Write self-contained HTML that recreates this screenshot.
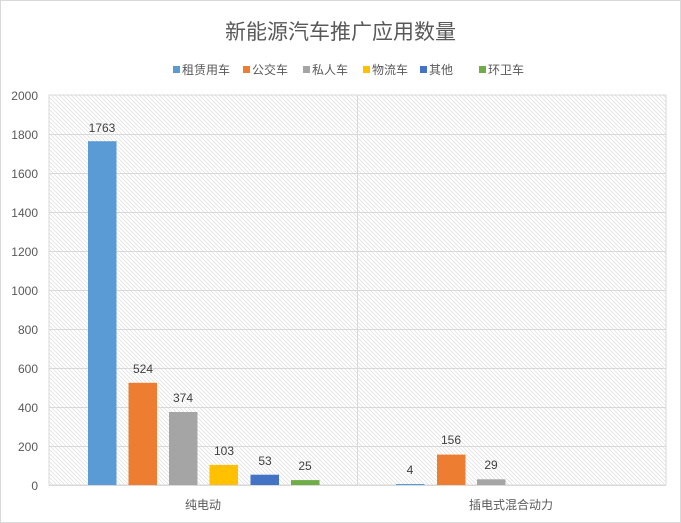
<!DOCTYPE html>
<html><head><meta charset="utf-8"><style>
html,body{margin:0;padding:0;background:#fff;}
svg{display:block;font-family:"Liberation Sans","Noto Sans CJK SC",sans-serif;}
</style></head><body>
<svg width="681" height="523" viewBox="0 0 681 523" xmlns="http://www.w3.org/2000/svg">
<defs>
<pattern id="h" width="4" height="4" patternUnits="userSpaceOnUse">
<path d="M-1,-1 L5,5 M-1,3 L1,5 M3,-1 L5,1" stroke="#dedede" stroke-width="0.7"/>
</pattern>
</defs>
<rect x="0.5" y="0.5" width="680" height="522" fill="#fff" stroke="#d9d9d9"/>
<text x="340.5" y="39" text-anchor="middle" font-size="21" fill="#595959">新能源汽车推广应用数量</text>
<g font-size="12" fill="#595959">
<rect x="173" y="66" width="7" height="7" fill="#5b9bd5"/><text x="182" y="74">租赁用车</text>
<rect x="243" y="66" width="7" height="7" fill="#ed7d31"/><text x="252" y="74">公交车</text>
<rect x="303" y="66" width="7" height="7" fill="#a5a5a5"/><text x="312" y="74">私人车</text>
<rect x="363" y="66" width="7" height="7" fill="#ffc000"/><text x="372" y="74">物流车</text>
<rect x="420" y="66" width="7" height="7" fill="#4472c4"/><text x="429" y="74">其他</text>
<rect x="479" y="66" width="7" height="7" fill="#70ad47"/><text x="488" y="74">环卫车</text>
</g>
<rect x="49" y="95" width="617" height="390" fill="url(#h)" stroke="#d9d9d9"/>
<g stroke="#d9d9d9" stroke-width="1">
<line x1="49" y1="134.5" x2="666" y2="134.5"/><line x1="49" y1="173.5" x2="666" y2="173.5"/>
<line x1="49" y1="212.5" x2="666" y2="212.5"/><line x1="49" y1="251.5" x2="666" y2="251.5"/>
<line x1="49" y1="290.5" x2="666" y2="290.5"/><line x1="49" y1="329.5" x2="666" y2="329.5"/>
<line x1="49" y1="368.5" x2="666" y2="368.5"/><line x1="49" y1="407.5" x2="666" y2="407.5"/>
<line x1="49" y1="446.5" x2="666" y2="446.5"/><line x1="49" y1="485.5" x2="666" y2="485.5"/>
<line x1="357.5" y1="95" x2="357.5" y2="485"/>
</g>
<g font-size="12" fill="#595959" text-anchor="end">
<text x="38" y="100">2000</text><text x="38" y="139">1800</text><text x="38" y="178">1600</text>
<text x="38" y="217">1400</text><text x="38" y="256">1200</text><text x="38" y="295">1000</text>
<text x="38" y="334">800</text><text x="38" y="373">600</text><text x="38" y="412">400</text>
<text x="38" y="451">200</text><text x="38" y="490">0</text>
</g>
<rect x="88" y="141.2" width="28.5" height="343.8" fill="#5b9bd5"/>
<rect x="128.5" y="382.8" width="28.5" height="102.2" fill="#ed7d31"/>
<rect x="169" y="412" width="28.5" height="73" fill="#a5a5a5"/>
<rect x="209.5" y="464.9" width="28.5" height="20.1" fill="#ffc000"/>
<rect x="250.5" y="474.7" width="28.5" height="10.3" fill="#4472c4"/>
<rect x="291" y="480.1" width="28.5" height="4.9" fill="#70ad47"/>
<rect x="396" y="484" width="28.5" height="1" fill="#5b9bd5"/>
<rect x="437" y="454.6" width="28.5" height="30.4" fill="#ed7d31"/>
<rect x="477" y="479.3" width="28.5" height="5.7" fill="#a5a5a5"/>
<g font-size="12" fill="#404040" text-anchor="middle">
<text x="102" y="132">1763</text><text x="143" y="373">524</text><text x="183" y="402">374</text>
<text x="224" y="455">103</text><text x="265" y="465">53</text><text x="305" y="470">25</text>
<text x="410" y="474">4</text><text x="451" y="444">156</text><text x="491" y="469">29</text>
</g>
<g font-size="12" fill="#595959" text-anchor="middle">
<text x="203" y="509">纯电动</text><text x="511" y="509">插电式混合动力</text>
</g>
</svg>
</body></html>
